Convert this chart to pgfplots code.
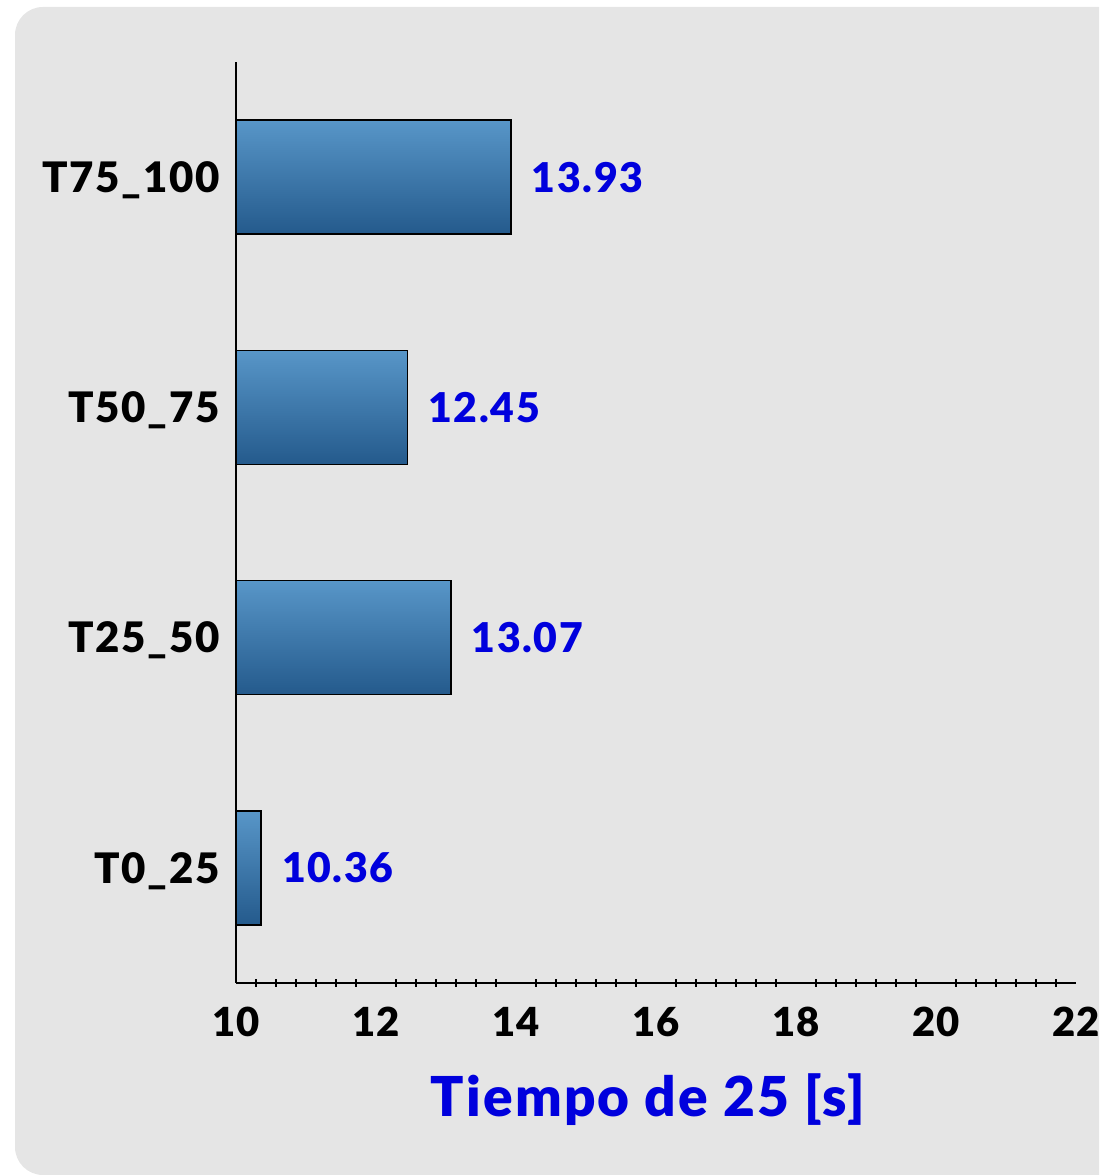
\documentclass[border=0pt]{standalone}
\usepackage{fontspec}
\setmainfont{Lato}[BoldFont={Lato Black}]
\newfontfamily\lbl{Lato Black}[LetterSpace=4.0]
\usepackage{pgfplots}
\pgfplotsset{compat=1.18}
\definecolor{lblue}{HTML}{0000DD}
\definecolor{bartop}{HTML}{5896C8}
\definecolor{barbot}{HTML}{245A8C}
\definecolor{bg}{HTML}{E5E5E5}
\pgfplotsset{barsty/.style={draw=black, line width=0.8pt, top color=bartop, bottom color=barbot}}
\begin{document}
\begin{tikzpicture}[x=1pt,y=1pt]
\useasboundingbox (0,0) rectangle (549.5,588);
\clip (0,0) rectangle (549.5,588);
\fill[bg, rounded corners=14pt] (7.5,0.5) rectangle (580,584.5);
\begin{axis}[
  at={(118pt,96.5pt)}, anchor=south west,
  xbar, scale only axis, width=420pt, height=460.5pt,
  xmin=10, xmax=22, ymin=-0.5, ymax=3.5,
  axis lines=left, axis line style={-, line width=0.9pt, black},
  xtick={10,12,...,22}, minor x tick num=6,
  major tick length=0pt, minor tick length=4pt, tick align=center,
  tick style={black, line width=0.6pt},
  ytick={0,1,2,3}, yticklabels={T0\_25,T25\_50,T50\_75,T75\_100},
  ytick style={draw=none},
  /pgf/number format/assume math mode=true,
  ticklabel style={font=\lbl\fontsize{20}{24}\selectfont, inner sep=0pt},
  xticklabel style={anchor=north, yshift=-12pt},
  yticklabel style={anchor=east, xshift=-8pt, yshift=-1.5pt, font=\lbl\fontsize{21}{24}\selectfont},
  xlabel={Tiempo de 25 [s]},
  xlabel style={font=\lbl\fontsize{27.5}{30}\selectfont, text=lblue, at={(axis description cs:0.5,0)}, anchor=center, yshift=-58.5pt, xshift=-4pt},
  bar width=57pt, bar shift=0pt,
  nodes near coords,
  nodes near coords style={font=\lbl\fontsize{20.5}{24}\selectfont, text=lblue, anchor=west, inner sep=0pt, xshift=10pt, fill=none, draw=none,
    /pgf/number format/.cd, fixed, fixed zerofill, precision=2},
]
\addplot[barsty] coordinates {(10.36,0)};
\addplot[barsty] coordinates {(13.07,1)};
\addplot[barsty] coordinates {(12.45,2)};
\addplot[barsty] coordinates {(13.93,3)};
\end{axis}
\end{tikzpicture}
\end{document}
